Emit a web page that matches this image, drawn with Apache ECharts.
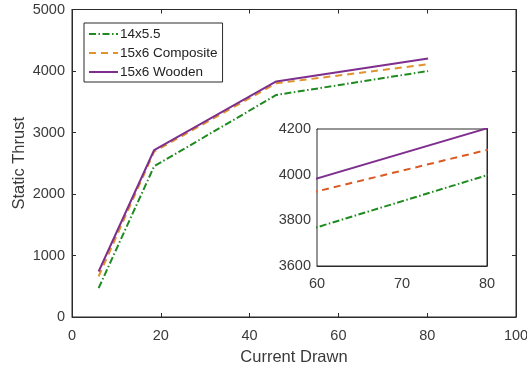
<!DOCTYPE html>
<html>
<head>
<meta charset="utf-8">
<script src="https://cdn.jsdelivr.net/npm/echarts@6/dist/echarts.min.js"></script>
<style>
  html, body { margin: 0; padding: 0; background: #fff; }
  #chart { width: 527px; height: 366px; }
</style>
</head>
<body>
<div id="chart"></div>
<script>
// current drawn (x) and static thrust per propeller
const current = [6, 18.5, 46, 80.2];
const thrust14x55 = [470, 2450, 3610, 4000];
const thrust15x6Composite = [660, 2690, 3800, 4110];
const thrust15x6Wooden = [740, 2715, 3830, 4205];

const mainXTicks = [0, 100, 20];
const mainYTicks = [0, 5000, 1000];
const insetXTicks = [60, 80, 10];
const insetYTicks = [3600, 4200, 200];

const GREEN = '#1f8a1f';
const GOLD = '#e0922c';
const ORANGE = '#d95a22';
const PURPLE = '#7e2f8e';
const AXIS = '#2b2b2b';
const TEXT = '#3a3a3a';
const FONT = 'Liberation Sans, Arial, sans-serif';

const pairs = (ys) => current.map((x, i) => [x, ys[i]]);

const chart = echarts.init(document.getElementById('chart'));

const tickStyle = { show: true, inside: true, length: 4, lineStyle: { color: AXIS } };
const labelStyle = { color: TEXT, fontSize: 14.5, fontFamily: FONT, formatter: (v) => String(v) };
const nameStyle = { color: TEXT, fontSize: 16.5, fontFamily: FONT };

function mkAxis(grid, ticks, margin, opts) {
  return Object.assign({
    type: 'value', gridIndex: grid, min: ticks[0], max: ticks[1], interval: ticks[2],
    axisLine: { show: true, onZero: false, lineStyle: { color: AXIS, width: 1 } },
    axisTick: tickStyle, splitLine: { show: false },
    axisLabel: Object.assign({ margin: margin }, labelStyle)
  }, opts || {});
}

function line(name, data, color, type, xi) {
  return {
    name: name, type: 'line', data: data, symbol: 'none',
    xAxisIndex: xi, yAxisIndex: xi, clip: true, z: xi ? 10 : 2,
    lineStyle: { color: color, width: 2, type: type },
    itemStyle: { color: color }
  };
}

const dashDot = [7, 2.5, 1.5, 2.5];
const dash = [7, 5];

chart.setOption({
  animation: false,
  backgroundColor: '#fff',
  grid: [
    { left: 72, top: 9.5, right: 11, bottom: 49, outerBoundsMode: 'none', containLabel: false,
      show: true, borderColor: AXIS, borderWidth: 1 },
    { left: 317, top: 129, width: 170, height: 137, outerBoundsMode: 'none', containLabel: false,
      show: true, backgroundColor: '#fff', borderColor: AXIS, borderWidth: 1, z: 5 }
  ],
  legend: {
    left: 84, top: 23, orient: 'vertical', itemGap: 5,
    itemWidth: 29, itemHeight: 14,
    padding: [4, 5, 3, 4],
    borderColor: AXIS, borderWidth: 1, backgroundColor: '#fff',
    itemStyle: { opacity: 0 },
    lineStyle: { width: 2 },
    textStyle: { color: '#222', fontSize: 13.5, fontFamily: FONT, padding: [0, 0, 0, -3] },
    data: ['14x5.5', '15x6 Composite', '15x6 Wooden']
  },
  xAxis: [
    mkAxis(0, mainXTicks, 11, { name: 'Current Drawn', nameLocation: 'middle', nameGap: 32,
      nameMoveOverlap: false, nameTextStyle: nameStyle }),
    mkAxis(1, insetXTicks, 10),
    mkAxis(0, mainXTicks, 8, { position: 'top', axisLabel: { show: false } }),
    mkAxis(1, insetXTicks, 8, { position: 'top', axisLabel: { show: false } })
  ],
  yAxis: [
    mkAxis(0, mainYTicks, 7, { name: 'Static Thrust', nameLocation: 'middle', nameGap: 44,
      nameMoveOverlap: false, nameTextStyle: nameStyle }),
    mkAxis(1, insetYTicks, 6),
    mkAxis(0, mainYTicks, 8, { position: 'right', axisLabel: { show: false } }),
    mkAxis(1, insetYTicks, 8, { position: 'right', axisLabel: { show: false } })
  ],
  series: [
    line('14x5.5', pairs(thrust14x55), GREEN, dashDot, 0),
    line('15x6 Composite', pairs(thrust15x6Composite), GOLD, dash, 0),
    line('15x6 Wooden', pairs(thrust15x6Wooden), PURPLE, 'solid', 0),
    line('14x5.5', pairs(thrust14x55), GREEN, dashDot, 1),
    line('15x6 Composite', pairs(thrust15x6Composite), ORANGE, dash, 1),
    line('15x6 Wooden', pairs(thrust15x6Wooden), PURPLE, 'solid', 1)
  ]
});
</script>
</body>
</html>
